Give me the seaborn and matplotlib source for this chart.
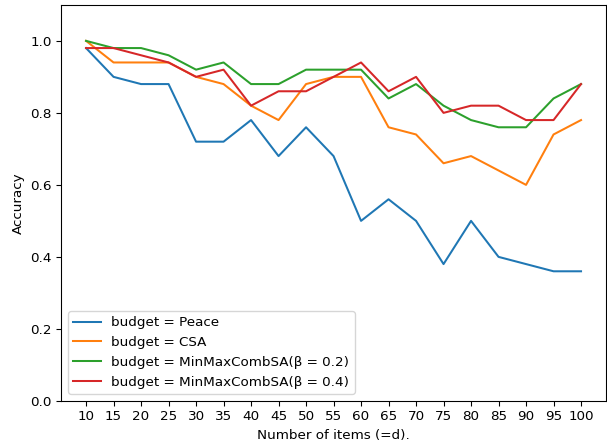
import matplotlib
matplotlib.use("Agg")
import matplotlib.pyplot as plt
import numpy as np
import pandas as pd
import seaborn as sns

ITEMS: list[int] = list(range(10, 101, 5))
LABELS: list[str] = ["budget = Peace", "budget = CSA", "budget = MinMaxCombSA(β = 0.2)", "budget = MinMaxCombSA(β = 0.4)"]

peace = [0.98, 0.90, 0.88, 0.88, 0.72, 0.72, 0.78, 0.68, 0.76, 0.68, 0.50, 0.56, 0.50, 0.38, 0.50, 0.40, 0.38, 0.36, 0.36]
csa = [1.00, 0.94, 0.94, 0.94, 0.90, 0.88, 0.82, 0.78, 0.88, 0.90, 0.90, 0.76, 0.74, 0.66, 0.68, 0.64, 0.60, 0.74, 0.78]
minmax_02 = [1.00, 0.98, 0.98, 0.96, 0.92, 0.94, 0.88, 0.88, 0.92, 0.92, 0.92, 0.84, 0.88, 0.82, 0.78, 0.76, 0.76, 0.84, 0.88]
minmax_04 = [0.98, 0.98, 0.96, 0.94, 0.90, 0.92, 0.82, 0.86, 0.86, 0.90, 0.94, 0.86, 0.90, 0.80, 0.82, 0.82, 0.78, 0.78, 0.88]

DPI = 97.5


def main() -> None:
    data = pd.concat(
        [pd.DataFrame({"items": ITEMS, "accuracy": vals, "budget": label})
         for label, vals in zip(LABELS, (peace, csa, minmax_02, minmax_04))],
        ignore_index=True,
    )

    fig, ax = plt.subplots(figsize=(607 / DPI, 442 / DPI), dpi=DPI)
    sns.lineplot(data=data, x="items", y="accuracy", hue="budget", palette="tab10", ax=ax)

    ax.set_xticks(ITEMS)
    ax.set_ylim(0, 1.1)
    ax.set_xlabel("Number of items (=d).")
    ax.set_ylabel("Accuracy")
    ax.legend(loc="lower left")

    fig.subplots_adjust(left=0.101, right=0.998, top=0.989, bottom=0.093)
    fig.savefig("out.png", dpi=DPI)


if __name__ == "__main__":
    main()
